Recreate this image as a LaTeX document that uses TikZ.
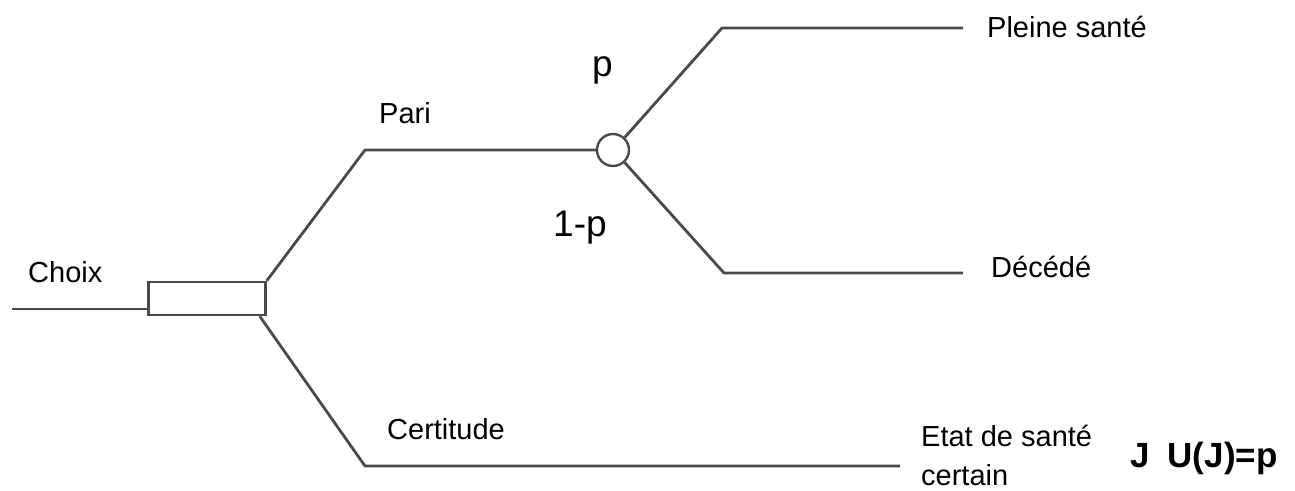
\documentclass[tikz,border=0pt]{standalone}
\usepackage{fontspec}
\setmainfont{Liberation Sans}
\definecolor{linec}{HTML}{4A4A4A}
\begin{document}
\begin{tikzpicture}[x=1pt,y=-1pt,
  branch/.style={draw=linec,line width=2.8pt,line join=miter},
  lab/.style={anchor=base west,inner sep=0pt,font=\fontsize{29}{34}\selectfont},
  prob/.style={anchor=base west,inner sep=0pt,font=\fontsize{37}{42}\selectfont},
  res/.style={anchor=base west,inner sep=0pt,font=\fontsize{35}{40}\selectfont\bfseries}]
\useasboundingbox (0,0) rectangle (1295,490);
% decision box and chance node
\node[draw=linec,line width=2.4pt,minimum width=117pt,minimum height=33pt,inner sep=0pt] (box) at (207,298.5) {};
\node[draw=linec,line width=2.4pt,circle,minimum size=32pt,inner sep=0pt] (chance) at (613,150) {};
% coordinates
\coordinate (start) at (12,309);
\coordinate (b1) at (365,150);
\coordinate (b2) at (365,466);
\coordinate (e2) at (900,466);
\coordinate (u1) at (722,28);
\coordinate (u2) at (963,28);
\coordinate (d1) at (724,273);
\coordinate (d2) at (963,273);
% connectors
\draw[branch] (start) -- (start -| box.west);
\draw[branch] (box.north east) -- (b1) -- (chance.west);
\draw[branch] ([xshift=-7pt]box.south east) -- (b2) -- (e2);
\draw[branch] (chance.47) -- (u1) -- (u2);
\draw[branch] (chance.-47) -- (d1) -- (d2);
% labels
\node[lab] (choix) at (28,282) {Choix};
\node[lab] (pari) at (379,123) {Pari};
\node[lab] (cert) at (387,439) {Certitude};
\node[lab] (pleine) at (987,37) {Pleine santé};
\node[lab] (deced) at (991,277) {Décédé};
\node[lab] (etat) at (921,446) {Etat de santé};
\node[lab] (certain) at (921,485) {certain};
\node[prob] (p) at (592,76) {p};
\node[prob] (q) at (553,236) {1-p};
\node[res] (uj) at (1130,467) {J\hspace{18pt}U(J)=p};
\end{tikzpicture}
\end{document}
